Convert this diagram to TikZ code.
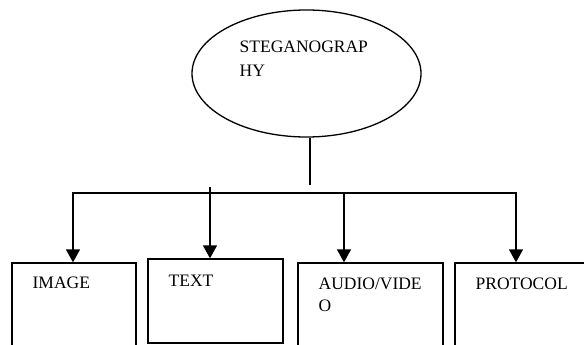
\documentclass[tikz,border=0pt]{standalone}
\usepackage{fontspec}
\setmainfont{Liberation Serif}
\usetikzlibrary{shapes.geometric,arrows.meta}
\begin{document}
\begin{tikzpicture}[x=1pt,y=-1pt,line width=1.3pt,
  lbl/.style={anchor=base west, inner sep=0pt, font=\fontsize{17.5}{20}\selectfont},
  box/.style={draw, rectangle, inner sep=0pt},
  arr/.style={-{Triangle[width=14pt,length=13pt]}}]
\useasboundingbox (0,0) rectangle (584,345);
\clip (0,0) rectangle (584,345);
\node[ellipse, draw, minimum width=229, minimum height=127, inner sep=0pt] (steg) at (306.5,73.5){};
\node[lbl] (steg1) at (239,53){STEGANOGRAP};
\node[lbl] (steg2) at (239,77){HY};
\node[box, minimum width=124, minimum height=97] (img) at (74,311.5){};
\node[lbl] (imgt) at (32,288){IMAGE};
\node[box, minimum width=135, minimum height=84] (txt) at (215.5,301){};
\node[lbl] (txtt) at (168,286){TEXT};
\node[box, minimum width=145, minimum height=97] (aud) at (370.5,311.5){};
\node[lbl] (audt1) at (318,289){AUDIO/VIDE};
\node[lbl] (audt2) at (318,311){O};
\node[box, minimum width=145, minimum height=97] (prot) at (527.5,311.5){};
\node[lbl] (prott) at (475,289){PROTOCOL};
\coordinate (stem) at (310,185);
\coordinate (busL) at (73,193);
\coordinate (busR) at (516,193);
\coordinate (busM) at (310,193);
\coordinate (txtin) at (210,187);
\coordinate (audin) at (344,193);
\draw[] (steg.south -| stem) -- (stem);
\draw[arr] (busM) -| (busL |- img.north);
\draw[arr] (busM) -| (busR |- prot.north);
\draw[arr] (txtin) -- (txtin |- txt.north);
\draw[arr] (audin) -- (audin |- aud.north);
\end{tikzpicture}
\end{document}
